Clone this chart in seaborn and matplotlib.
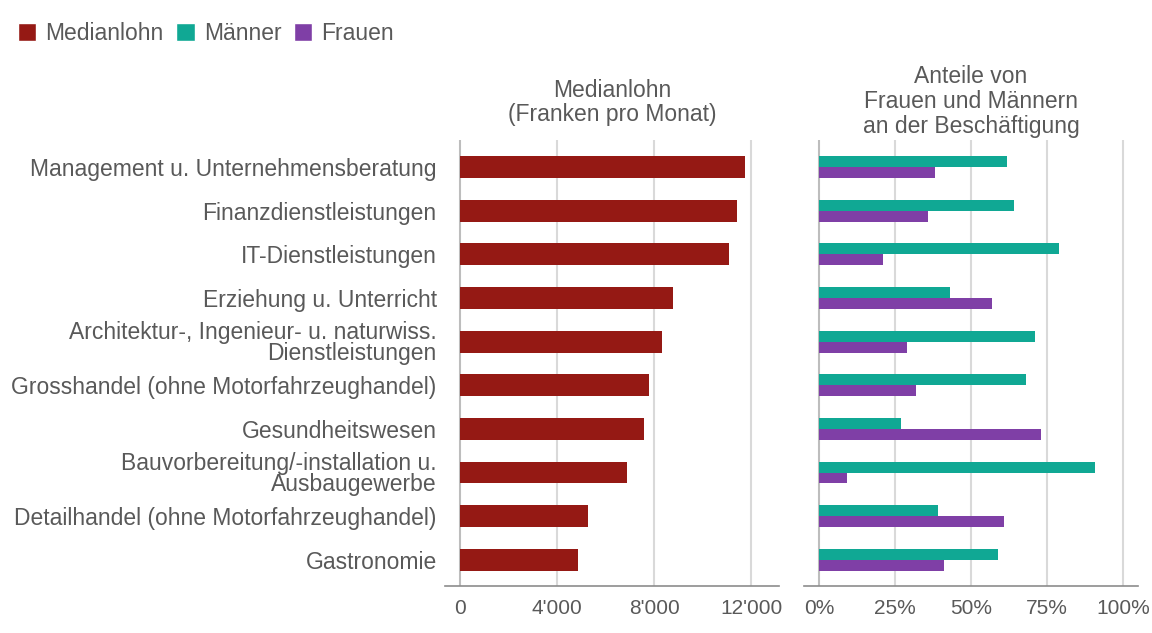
import numpy as np
import pandas as pd
import seaborn as sns
import matplotlib.pyplot as plt
from matplotlib.patches import Patch
from matplotlib.ticker import FuncFormatter

# Data
branchen = [
    "Management u. Unternehmensberatung",
    "Finanzdienstleistungen",
    "IT-Dienstleistungen",
    "Erziehung u. Unterricht",
    "Architektur-, Ingenieur- u. naturwiss.\nDienstleistungen",
    "Grosshandel (ohne Motorfahrzeughandel)",
    "Gesundheitswesen",
    "Bauvorbereitung/-installation u.\nAusbaugewerbe",
    "Detailhandel (ohne Motorfahrzeughandel)",
    "Gastronomie",
]
medianlohn = [11740, 11410, 11090, 8780, 8340, 7770, 7600, 6880, 5260, 4850]
anteil_maenner = [62, 64, 79, 43, 71, 68, 27, 91, 39, 59]
anteil_frauen = [38, 36, 21, 57, 29, 32, 73, 9, 61, 41]

lohn_ticks = [0, 4000, 8000, 12000]
anteil_ticks = [0, 25, 50, 75, 100]

COL_LOHN = "#951914"
COL_M = "#10a894"
COL_F = "#7f3fa6"
TEXT = "#595959"
FS = 16.5
FS_TICK = 15

sns.set_style("white")
plt.rcParams['font.family'] = ['Liberation Sans', 'DejaVu Sans']
plt.rcParams['text.color'] = TEXT
plt.rcParams['xtick.color'] = TEXT
plt.rcParams['ytick.color'] = TEXT

df_lohn = pd.DataFrame({"branche": branchen, "lohn": medianlohn})
df_anteil = pd.DataFrame({
    "branche": branchen * 2,
    "anteil": anteil_maenner + anteil_frauen,
    "geschlecht": ["Männer"] * len(branchen) + ["Frauen"] * len(branchen),
})

fig = plt.figure(figsize=(11.52, 6.33), dpi=100)
ax1 = fig.add_axes([445 / 1152, 1 - 586 / 633, 334 / 1152, 446 / 633])
ax2 = fig.add_axes([804 / 1152, 1 - 586 / 633, 334 / 1152, 446 / 633])

sns.barplot(data=df_lohn, x="lohn", y="branche", color=COL_LOHN, saturation=1,
            width=0.5, linewidth=0, ax=ax1, zorder=3)
sns.barplot(data=df_anteil, x="anteil", y="branche", hue="geschlecht",
            palette={"Männer": COL_M, "Frauen": COL_F}, saturation=1,
            width=0.5, linewidth=0, ax=ax2, zorder=3, legend=False)

ax1.set_xlim(-620, 13150)
ax2.set_xlim(-5, 105)
for ax, ticks in [(ax1, lohn_ticks), (ax2, anteil_ticks)]:
    ax.set_ylim(9.6, -0.62)
    ax.set_xticks(ticks)
    ax.set_xlabel("")
    ax.set_ylabel("")
    for t in ticks:
        ax.axvline(t, color="#bdbdbd" if t == 0 else "#d9d9d9", lw=1.5, zorder=1)
    for s in ["top", "right", "left"]:
        ax.spines[s].set_visible(False)
    ax.spines["bottom"].set_color("#8c8c8c")
    ax.spines["bottom"].set_linewidth(1.2)
    ax.tick_params(axis="x", length=4, width=1, color="#8c8c8c", labelsize=FS_TICK, pad=5)
    ax.tick_params(axis="y", length=0)

ax1.xaxis.set_major_formatter(FuncFormatter(lambda v, p: f"{int(v):,}".replace(",", "'")))
ax2.xaxis.set_major_formatter(FuncFormatter(lambda v, p: f"{int(v)}%"))

ax1.set_yticks(range(len(branchen)))
ax1.set_yticklabels(branchen, fontsize=FS, linespacing=0.88)
ax1.tick_params(axis="y", pad=6)
ax2.set_yticks([])

ax1.set_title("Medianlohn\n(Franken pro Monat)", fontsize=FS, color=TEXT, pad=13.5, linespacing=1.08)
ax2.set_title("Anteile von\nFrauen und Männern\nan der Beschäftigung", fontsize=FS, color=TEXT,
              pad=5, linespacing=1.12)

handles = [Patch(facecolor=COL_LOHN, label="Medianlohn"),
           Patch(facecolor=COL_M, label="Männer"),
           Patch(facecolor=COL_F, label="Frauen")]
fig.legend(handles=handles, loc="upper left", bbox_to_anchor=(18 / 1152, 1 - 22 / 633),
           ncol=3, frameon=False, fontsize=FS, handlelength=0.8, handleheight=0.8,
           handletextpad=0.4, columnspacing=0.55, borderpad=0, borderaxespad=0)

fig.savefig("out.png", dpi=100)
